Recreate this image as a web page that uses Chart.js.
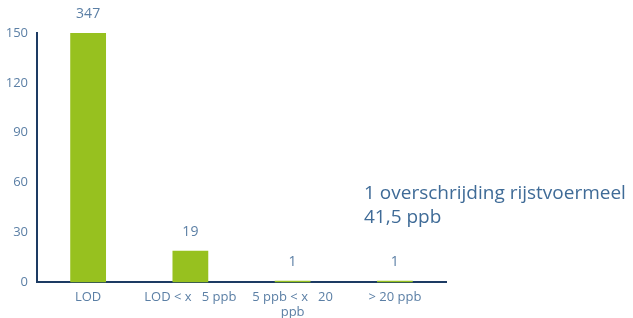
<!DOCTYPE html>
<html>
<head>
<meta charset="utf-8">
<script src="https://cdn.jsdelivr.net/npm/chart.js@4"></script>
<style>
html,body{margin:0;padding:0;background:#fff;}
#wrap{width:633px;height:318px;position:relative;}
</style>
</head>
<body>
<div id="wrap"><canvas id="c" width="633" height="318"></canvas></div>
<script>
const categories = ["LOD", "LOD < x   5 ppb", ["5 ppb < x   20", "ppb"], "> 20 ppb"];
const counts = [347, 19, 1, 1];
const yTicks = [0, 30, 60, 90, 120, 150];
const note = ["1 overschrijding rijstvoermeel", "41,5 ppb"];

const tickColor = "#5b7fa5";
const axisColor = "#1d3b63";
const barColor = "#97c11f";
const FONT = "'Open Sans', sans-serif";

const labelPlugin = {
  id: "labels",
  afterDatasetsDraw(chart) {
    const ctx = chart.ctx;
    const meta = chart.getDatasetMeta(0);
    const area = chart.chartArea;
    ctx.save();
    ctx.fillStyle = tickColor;
    ctx.font = "14px " + FONT;
    ctx.textAlign = "center";
    ctx.textBaseline = "middle";
    meta.data.forEach((bar, i) => {
      const y = Math.max(bar.y, area.top);
      ctx.fillText(String(counts[i]), bar.x, y - 19);
    });
    ctx.fillStyle = "#3f6b97";
    ctx.font = "19px " + FONT;
    ctx.textAlign = "left";
    ctx.textBaseline = "middle";
    ctx.fillText(note[0], 364, 194);
    ctx.fillText(note[1], 364, 218);
    ctx.restore();
  }
};

new Chart(document.getElementById("c"), {
  type: "bar",
  data: {
    labels: categories,
    datasets: [{
      data: counts,
      backgroundColor: barColor,
      barPercentage: 0.35,
      categoryPercentage: 1.0
    }]
  },
  options: {
    responsive: false,
    animation: false,
    devicePixelRatio: 1,
    layout: { padding: { top: 33, right: 187, left: 0, bottom: -9 } },
    plugins: { legend: { display: false }, tooltip: { enabled: false } },
    scales: {
      x: {
        grid: { display: false, drawTicks: false },
        border: { display: true, color: axisColor, width: 2 },
        ticks: { color: tickColor, font: { size: 13, family: FONT, lineHeight: 1.1 }, padding: 8, maxRotation: 0, autoSkip: false }
      },
      y: {
        min: 0, max: 150,
        afterBuildTicks(axis) { axis.ticks = yTicks.map(v => ({ value: v })); },
        afterFit(axis) { axis.width = 37; },
        grid: { display: false, drawTicks: false },
        border: { display: true, color: axisColor, width: 2 },
        ticks: { color: tickColor, font: { size: 13, family: FONT }, padding: 9 }
      }
    }
  },
  plugins: [labelPlugin]
});
</script>
</body>
</html>
